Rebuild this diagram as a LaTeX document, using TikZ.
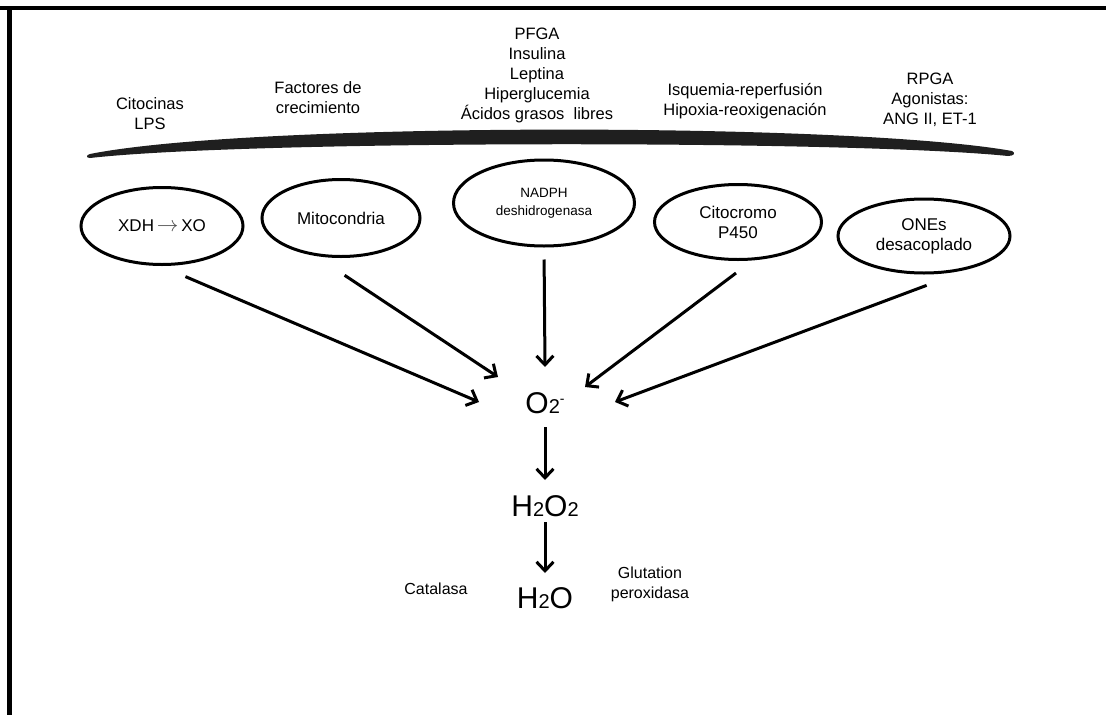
\documentclass[tikz,border=0pt]{standalone}
\usepackage{fontspec}
\setmainfont{Liberation Sans}
\usetikzlibrary{arrows.meta,shapes.geometric}

\begin{document}
\begin{tikzpicture}[x=1pt,y=-1pt,->,>={Straight Barb[length=9pt,width=17pt]},line width=3pt,
  main node/.style={ellipse,draw,line width=3pt,inner sep=0pt,align=center,font=\fontsize{17}{20}\selectfont},
  cause node/.style={align=center,font=\fontsize{16.5}{20}\selectfont},
  chem node/.style={font=\fontsize{30}{30}\selectfont},
  enzyme node/.style={align=center,font=\fontsize{16}{20}\selectfont}]
\useasboundingbox (0,0) rectangle (1106,715);
% frame
\draw[-,line width=4pt] (0,8) -- (1106,8);
\draw[-,line width=5pt] (9.5,6) -- (9.5,715);

% stimuli
\node[cause node] (cito) at (150,114) {Citocinas\\LPS};
\node[cause node] (fact) at (318,98) {Factores de\\crecimiento};
\node[cause node] (pfga) at (537,75) {PFGA\\Insulina\\Leptina\\Hiperglucemia\\Ácidos grasos\ \ libres};
\node[cause node] (isq) at (745,101) {Isquemia-reperfusión\\Hipoxia-reoxigenación};
\node[cause node] (rpga) at (930,100) {RPGA\\Agonistas:\\ANG II, ET-1};

% bar
\fill[-,black!88] (90,154) .. controls (250,122) and (850,122) .. (1012,151)
  .. controls (1016,153) and (1014,156) .. (1008,156)
  .. controls (850,140) and (250,140) .. (90,158)
  .. controls (86,158) and (86,155) .. (90,154) -- cycle;

% sources
\node[main node,minimum width=162pt,minimum height=77pt] (xdh) at (162,226) {XDH\,{\color{black!70}\scalebox{1.25}{$\rightarrow$}}\,XO};
\node[main node,minimum width=158pt,minimum height=77pt] (mito) at (341,218) {Mitocondria};
\node[main node,minimum width=181pt,minimum height=86pt,font=\fontsize{13.5}{18}\selectfont] (nadph) at (544,203) {NADPH\\deshidrogenasa};
\node[main node,minimum width=167pt,minimum height=75pt] (cyp) at (738,222) {Citocromo\\P450};
\node[main node,minimum width=172pt,minimum height=74pt] (enos) at (924,236) {ONEs\\desacoplado};

% species
\node[chem node] (o2) at (545,403) {O{\fontsize{20}{20}\selectfont 2\raisebox{10pt}{\fontsize{14}{14}\selectfont -}}};
\node[chem node] (h2o2) at (545,506) {H{\fontsize{20}{20}\selectfont 2}O{\fontsize{20}{20}\selectfont 2}};
\node[chem node] (h2o) at (545,598) {H{\fontsize{20}{20}\selectfont 2}O};
\node[enzyme node] (cat) at (436,589) {Catalasa};
\node[enzyme node] (gpx) at (650,584) {Glutation\\peroxidasa};

\path
(xdh.-92) edge [shorten <=27pt] ([xshift=-66pt,yshift=1pt]o2.center)
(mito.-124) edge [shorten <=35pt] ([xshift=-47pt,yshift=26pt]o2.center)
(nadph.south) edge [shorten <=12pt] ([yshift=36pt]o2.center)
(cyp.-69) edge [shorten <=21pt] ([xshift=40pt,yshift=16pt]o2.center)
(enos.-32) edge [shorten <=51pt] ([xshift=70pt,yshift=1pt]o2.center)
(o2.center) edge [shorten <=24pt,shorten >=26pt] (h2o2.center)
(h2o2.center) edge [shorten <=16pt,shorten >=25pt] (h2o.center)
;
\end{tikzpicture}
\end{document}
